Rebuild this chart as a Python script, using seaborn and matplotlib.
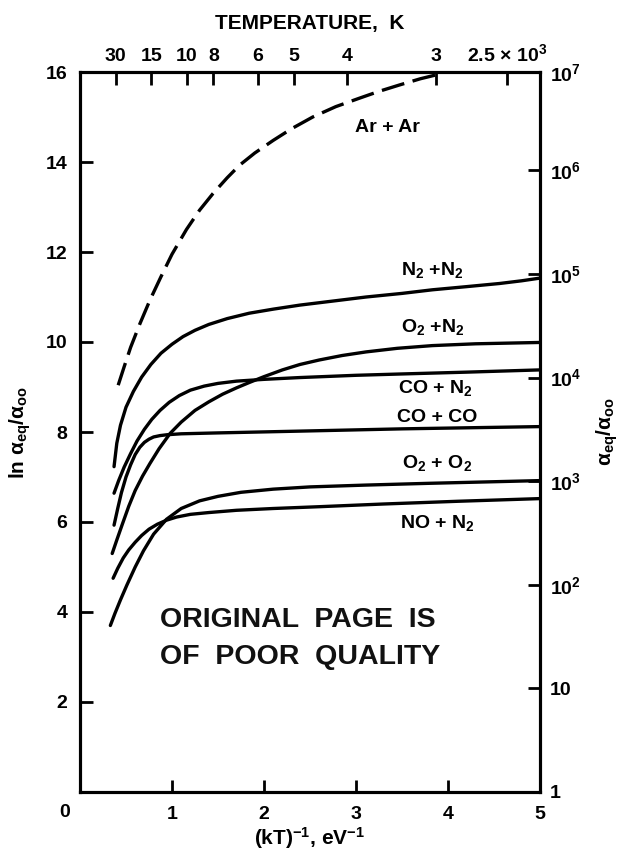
import numpy as np
import pandas as pd
import matplotlib
matplotlib.use('Agg')
import matplotlib.pyplot as plt
import seaborn as sns

# ---- data ----
ar_x = [0.415, 0.48, 0.55, 0.65, 0.76, 0.88, 1.0, 1.157, 1.3, 1.446, 1.6, 1.735,
        1.9, 2.1, 2.3, 2.53, 2.78, 3.04, 3.25, 3.47, 3.7, 3.94]
ar_y = [9.04, 9.45, 9.88, 10.4, 10.93, 11.45, 11.95, 12.5, 12.93, 13.3, 13.65, 13.93,
        14.2, 14.48, 14.74, 15.0, 15.23, 15.42, 15.57, 15.71, 15.85, 15.97]

n2n2_x = [0.37, 0.4, 0.44, 0.5, 0.58, 0.67, 0.77, 0.88, 1.0, 1.12, 1.25, 1.4, 1.6,
          1.84, 2.1, 2.39, 2.75, 3.11, 3.5, 3.83, 4.2, 4.56, 4.8, 5.0]
n2n2_y = [7.23, 7.75, 8.15, 8.55, 8.9, 9.22, 9.5, 9.75, 9.95, 10.12, 10.26, 10.39, 10.52,
          10.64, 10.73, 10.82, 10.91, 11.0, 11.08, 11.16, 11.23, 11.3, 11.36, 11.42]

o2n2_x = [0.35, 0.4, 0.46, 0.53, 0.6, 0.68, 0.76, 0.86, 0.98, 1.1, 1.25, 1.4, 1.55,
          1.7, 1.84, 2.0, 2.2, 2.39, 2.6, 2.85, 3.11, 3.45, 3.83, 4.3, 5.0]
o2n2_y = [5.3, 5.6, 5.95, 6.35, 6.7, 7.02, 7.3, 7.63, 7.97, 8.22, 8.48, 8.67, 8.84,
          8.98, 9.1, 9.23, 9.38, 9.5, 9.6, 9.7, 9.78, 9.86, 9.92, 9.96, 9.99]

con2_x = [0.37, 0.42, 0.48, 0.55, 0.62, 0.7, 0.78, 0.87, 0.97, 1.08, 1.2, 1.35, 1.5,
          1.7, 2.0, 2.39, 3.0, 3.5, 4.2, 5.0]
con2_y = [6.64, 6.92, 7.22, 7.52, 7.8, 8.06, 8.28, 8.48, 8.66, 8.81, 8.93, 9.02, 9.08,
          9.13, 9.17, 9.21, 9.26, 9.29, 9.33, 9.38]

coco_x = [0.37, 0.41, 0.45, 0.5, 0.55, 0.6, 0.65, 0.7, 0.75, 0.8, 0.87, 0.95, 1.1,
          1.5, 2.4, 3.5, 5.0]
coco_y = [5.93, 6.3, 6.65, 7.0, 7.27, 7.5, 7.66, 7.77, 7.84, 7.89, 7.92, 7.94, 7.96,
          7.98, 8.02, 8.07, 8.12]

o2o2_x = [0.33, 0.38, 0.44, 0.51, 0.6, 0.69, 0.8, 0.94, 1.1, 1.3, 1.5, 1.75, 2.1,
          2.5, 3.1, 3.8, 4.4, 5.0]
o2o2_y = [3.7, 3.97, 4.27, 4.6, 5.0, 5.36, 5.73, 6.06, 6.3, 6.47, 6.57, 6.66, 6.73,
          6.78, 6.82, 6.86, 6.89, 6.92]

non2_x = [0.36, 0.41, 0.47, 0.53, 0.6, 0.67, 0.75, 0.84, 0.94, 1.05, 1.2, 1.4, 1.7,
          2.1, 2.6, 3.3, 4.1, 5.0]
non2_y = [4.75, 4.97, 5.2, 5.38, 5.55, 5.7, 5.84, 5.95, 6.04, 6.11, 6.17, 6.21, 6.26,
          6.3, 6.34, 6.4, 6.46, 6.52]

curve_names = ["Ar + Ar", "N$_2$ +N$_2$", "O$_2$ +N$_2$", "CO + N$_2$",
               "CO + CO", "O$_2$ + O$_2$", "NO + N$_2$"]
label_x = [3.34, 3.83, 3.83, 3.86, 3.88, 3.88, 3.88]
label_y = [14.76, 11.6, 10.33, 8.98, 8.33, 7.31, 5.98]

x_ticks = [0, 1, 2, 3, 4, 5]
y_ticks = [0, 2, 4, 6, 8, 10, 12, 14, 16]
temps_K = [30000, 15000, 10000, 8000, 6000, 5000, 4000, 3000, 2500]
temp_labels = ["30", "15", "10", "8", "6", "5", "4", "3", "2.5 \u00d7 10$^3$"]
ratio_exp = [0, 1, 2, 3, 4, 5, 6, 7]
ratio_labels = ["1", "10", "10$^2$", "10$^3$", "10$^4$", "10$^5$", "10$^6$", "10$^7$"]
k_B = 8.617e-5  # eV/K

# ---- style ----
sns.set_theme(style="white")
plt.rcParams['font.family'] = ['Liberation Sans', 'DejaVu Sans']
plt.rcParams['font.weight'] = 'bold'
plt.rcParams['mathtext.fontset'] = 'custom'
plt.rcParams['mathtext.rm'] = 'Liberation Sans:bold'
plt.rcParams['mathtext.it'] = 'Liberation Sans:bold'
plt.rcParams['mathtext.bf'] = 'Liberation Sans:bold'
plt.rcParams['axes.linewidth'] = 2.2
plt.rcParams['axes.edgecolor'] = 'black'
plt.rcParams['text.color'] = 'black'
plt.rcParams['axes.labelcolor'] = 'black'
plt.rcParams['xtick.color'] = 'black'
plt.rcParams['ytick.color'] = 'black'

W, H = 620, 857
fig = plt.figure(figsize=(W / 100, H / 100), dpi=100)
ax = fig.add_axes([80 / W, 65 / H, 460 / W, 720 / H])

series = [(ar_x, ar_y), (n2n2_x, n2n2_y), (o2n2_x, o2n2_y), (con2_x, con2_y),
          (coco_x, coco_y), (o2o2_x, o2o2_y), (non2_x, non2_y)]
for i, (xs, ys) in enumerate(series):
    df = pd.DataFrame({"x": xs, "y": ys})
    ls = (0, (7, 2.6)) if i == 0 else '-'
    sns.lineplot(data=df, x="x", y="y", ax=ax, color="black", lw=2.4,
                 linestyle=ls, sort=False, estimator=None,
                 solid_joinstyle='round', dash_capstyle='butt')

for name, lx, ly in zip(curve_names, label_x, label_y):
    ax.text(lx, ly, name, ha='center', va='center', fontsize=14,
            fontweight='bold', color='black')

ax.text(0.87, 3.82, "ORIGINAL  PAGE  IS", ha='left', va='center', fontsize=20.5,
        fontweight='bold', color='#111111')
ax.text(0.87, 3.0, "OF  POOR  QUALITY", ha='left', va='center', fontsize=20.5,
        fontweight='bold', color='#111111')

ax.set_xlim(0, 5)
ax.set_ylim(0, 16)
ax.set_xticks(x_ticks)
ax.set_xticklabels([''] + [str(v) for v in x_ticks[1:]])
ax.set_yticks(y_ticks)
ax.set_yticklabels([''] + [str(v) for v in y_ticks[1:]])
ax.tick_params(axis='both', direction='in', length=9, width=2, labelsize=14,
               colors='black')
ax.tick_params(axis='x', pad=10)
ax.tick_params(axis='y', pad=9)
ax.set_xlabel('')
ax.set_ylabel('')
ax.annotate('0', xy=(0, 0), xycoords='axes fraction', xytext=(-11, -15),
            textcoords='offset points', ha='center', va='center', fontsize=14,
            fontweight='bold')

# top temperature axis
axt = ax.twiny()
axt.set_xlim(0, 5)
axt.set_xticks([1.0 / (k_B * t) for t in temps_K])
axt.set_xticklabels(temp_labels)
axt.tick_params(axis='x', direction='in', length=9, width=2, labelsize=14, pad=5,
                colors='black')

# right ratio axis
axr = ax.twinx()
axr.set_ylim(0, 16)
axr.set_yticks([min(e * np.log(10.0), 16.0) for e in ratio_exp])
axr.set_yticklabels(ratio_labels)
axr.tick_params(axis='y', direction='in', length=9, width=2, labelsize=14, pad=7,
                colors='black')
axr.set_ylabel('')

for a in (ax, axt, axr):
    for s in a.spines.values():
        s.set_linewidth(2.2)
        s.set_color('black')

fig.text(310 / W, 1 - 24 / H, "TEMPERATURE,  K", ha='center', va='center',
         fontsize=15, fontweight='bold')
fig.text(310 / W, 1 - 838 / H, "(kT)$^{-1}$, eV$^{-1}$", ha='center', va='center',
         fontsize=15, fontweight='bold')
fig.text(20 / W, 1 - 432 / H, "ln \u03b1$_{eq}$/\u03b1$_{oo}$", ha='center',
         va='center', rotation=90, fontsize=15, fontweight='bold')
fig.text(607 / W, 1 - 432 / H, "\u03b1$_{eq}$/\u03b1$_{oo}$", ha='center',
         va='center', rotation=90, fontsize=15, fontweight='bold')

fig.savefig("out.png", dpi=100, facecolor='white')
